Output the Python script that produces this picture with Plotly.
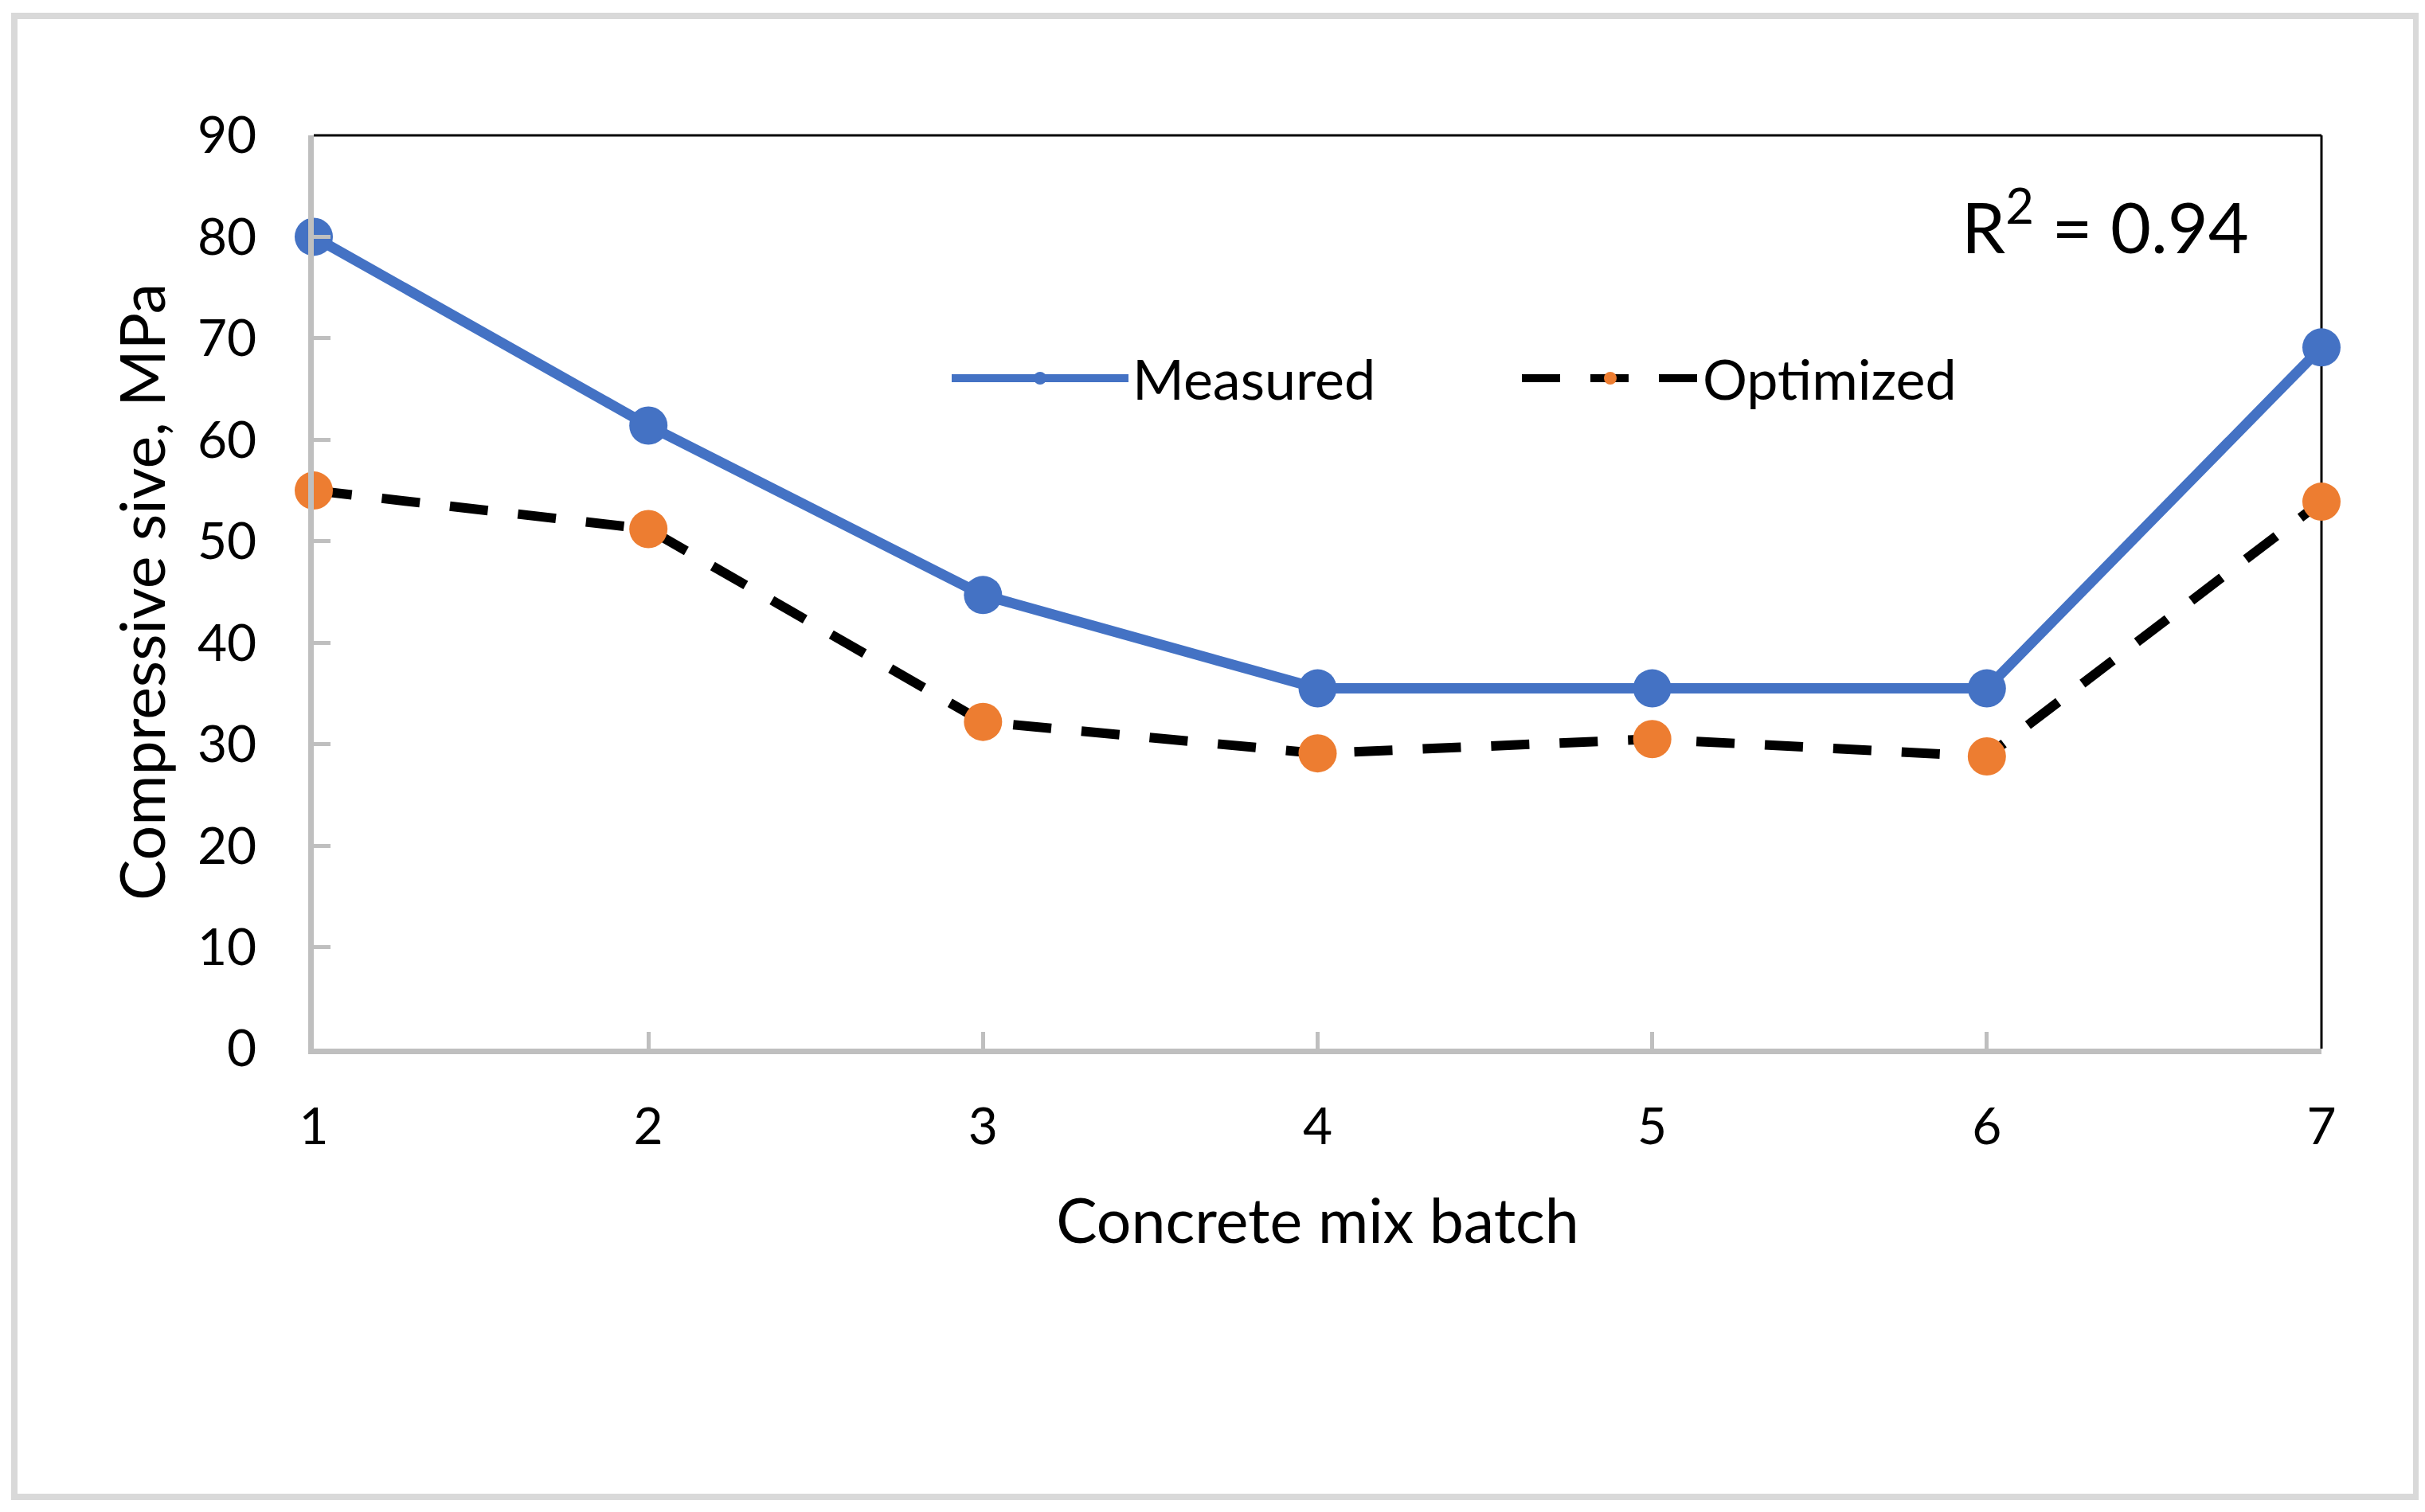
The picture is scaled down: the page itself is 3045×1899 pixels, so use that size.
import plotly.graph_objects as go

batches = [1, 2, 3, 4, 5, 6, 7]
measured = [80.0, 61.4, 44.7, 35.5, 35.5, 35.5, 69.1]
optimized = [55.0, 51.2, 32.2, 29.1, 30.5, 28.8, 53.9]
y_ticks = [0, 10, 20, 30, 40, 50, 60, 70, 80, 90]
x_title = "Concrete mix batch"
y_title = "Compressive sive, MPa"
r2_text = "R<sup>2</sup> = 0.94"

FONT = "Lato, 'Open Sans', sans-serif"
BLUE = "#4472C4"
ORANGE = "#ED7D31"
AXIS_GRAY = "#BFBFBF"

# page has an 8px body margin; figure coordinates = page coordinates - 8
OFF = 8
W, H = 3045 - 2 * OFF, 1899 - 2 * OFF
L = 394 - OFF
T = 170 - OFF
R = W - (2915 - OFF)
B = H - (1317 - OFF)
pw, ph = W - L - R, H - T - B


def px(page_x):
    return (page_x - OFF - L) / pw


def py(page_y):
    return (H - B - (page_y - OFF)) / ph


fig = go.Figure()
fig.add_trace(go.Scatter(
    x=batches, y=measured, name="Measured", mode="lines+markers",
    line=dict(color=BLUE, width=13),
    marker=dict(color=BLUE, size=48),
    cliponaxis=False,
))
fig.add_trace(go.Scatter(
    x=batches, y=optimized, name="Optimized", mode="lines+markers",
    line=dict(color="black", width=12, dash="48px,38px"),
    marker=dict(color=ORANGE, size=48),
    cliponaxis=False,
))

fig.update_layout(
    width=W, height=H,
    margin=dict(l=L, r=R, t=T, b=B, autoexpand=False),
    paper_bgcolor="white", plot_bgcolor="white",
    font=dict(family=FONT, color="black", size=62),
    showlegend=True,
    legend=dict(
        orientation="h", x=px(1190), y=py(475), xanchor="left", yanchor="middle",
        font=dict(size=70), itemwidth=222, bgcolor="rgba(0,0,0,0)",
        entrywidth=479, entrywidthmode="pixels",
    ),
    xaxis=dict(
        range=[1, 7], tickvals=batches, ticktext=[str(b) for b in batches],
        showline=True, linecolor=AXIS_GRAY, linewidth=7,
        ticks="inside", ticklen=21, tickwidth=5, tickcolor=AXIS_GRAY,
        showgrid=False, zeroline=False, ticklabelstandoff=36,
        title=dict(text=x_title, font=dict(size=77), standoff=60),
        tickfont=dict(size=64),
    ),
    yaxis=dict(
        range=[0, 90], tickvals=y_ticks,
        showline=True, linecolor=AXIS_GRAY, linewidth=7,
        ticks="inside", ticklen=21, tickwidth=5, tickcolor=AXIS_GRAY,
        showgrid=False, zeroline=False, ticklabelstandoff=52,
        title=dict(text=y_title, font=dict(size=77), standoff=18),
        tickfont=dict(size=64),
    ),
    shapes=[
        dict(type="line", xref="paper", yref="paper", x0=0, x1=1, y0=1, y1=1,
             line=dict(color="black", width=3), layer="below"),
        dict(type="line", xref="paper", yref="paper", x0=1, x1=1, y0=0, y1=1,
             line=dict(color="black", width=3), layer="below"),
        dict(type="rect", xref="paper", yref="paper",
             x0=px(18), x1=px(3034), y0=py(1880), y1=py(20),
             line=dict(color="#D9D9D9", width=8), layer="below"),
    ],
    annotations=[
        dict(text=r2_text, xref="paper", yref="paper", x=px(2643), y=py(278),
             xanchor="center", yanchor="middle", showarrow=False, font=dict(size=88)),
    ],
)

fig.write_html("out.html")
